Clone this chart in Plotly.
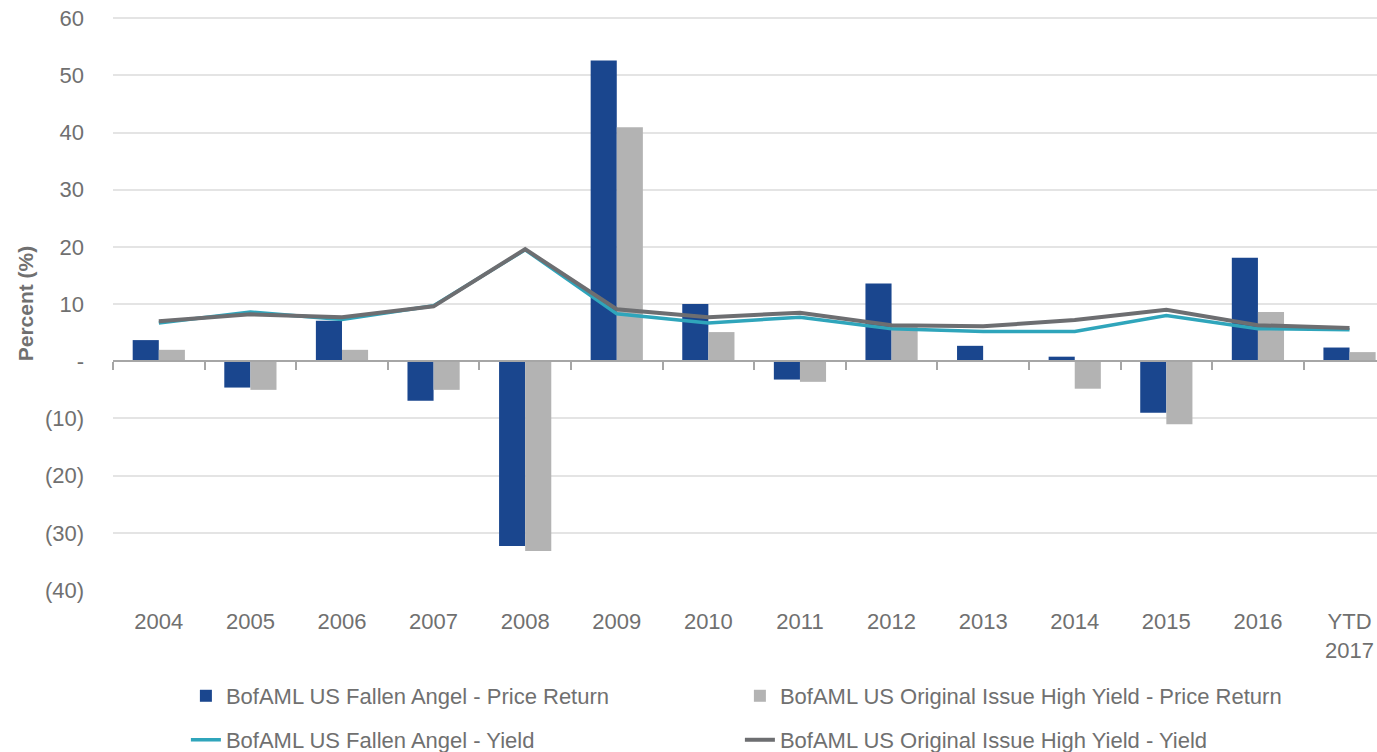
import plotly.graph_objects as go

categories = ["2004", "2005", "2006", "2007", "2008", "2009", "2010", "2011",
              "2012", "2013", "2014", "2015", "2016", "YTD<br>2017"]
fa_price_return = [3.7, -4.6, 7.1, -6.9, -32.3, 52.6, 10.0, -3.2, 13.6, 2.7, 0.8, -9.0, 18.1, 2.4]
oihy_price_return = [2.0, -5.0, 2.0, -5.0, -33.2, 40.9, 5.1, -3.6, 6.3, -0.1, -4.8, -11.0, 8.6, 1.6]
fa_yield = [6.7, 8.6, 7.3, 9.7, 19.5, 8.3, 6.7, 7.7, 5.7, 5.2, 5.2, 8.0, 5.7, 5.5]
oihy_yield = [7.0, 8.2, 7.7, 9.6, 19.6, 9.1, 7.7, 8.5, 6.3, 6.1, 7.2, 9.0, 6.3, 5.8]

y_tickvals = [-40, -30, -20, -10, 0, 10, 20, 30, 40, 50, 60]
y_ticktext = ["(40)", "(30)", "(20)", "(10)", "-", "10", "20", "30", "40", "50", "60"]

FONT = "Liberation Sans, Arial, sans-serif"
TXT = "#707070"

fig = go.Figure()
fig.add_trace(go.Bar(x=categories, y=fa_price_return, name="BofAML US Fallen Angel - Price Return",
                     marker=dict(color="#1A468E", line=dict(width=0)), legend="legend"))
fig.add_trace(go.Bar(x=categories, y=oihy_price_return, name="BofAML US Original Issue High Yield - Price Return",
                     marker=dict(color="#B3B3B3", line=dict(width=0)), legend="legend"))
fig.add_trace(go.Scatter(x=categories, y=fa_yield, name="BofAML US Fallen Angel - Yield",
                         mode="lines", line=dict(color="#2FA5BB", width=3.5), legend="legend2"))
fig.add_trace(go.Scatter(x=categories, y=oihy_yield, name="BofAML US Original Issue High Yield - Yield",
                         mode="lines", line=dict(color="#6D6E71", width=4), legend="legend2"))
# invisible helper trace carrying the zero-line category axis with boundary ticks
fig.add_trace(go.Scatter(x=categories, y=oihy_yield, xaxis="x2", mode="lines",
                         line=dict(width=0), opacity=0, showlegend=False, hoverinfo="skip"))

xr = [-0.5, 13.3]
yr = [-40, 60.2]
W, H = 1377, 752
fig.update_layout(
    width=W, height=H,
    margin=dict(l=113, r=0, t=17, b=162, autoexpand=False),
    plot_bgcolor="white", paper_bgcolor="white",
    font=dict(family=FONT, size=22, color=TXT),
    barmode="group", bargap=0.43, bargroupgap=0,
    xaxis=dict(type="category", range=xr, showgrid=False, zeroline=False, showline=False,
               ticks="", tickfont=dict(size=22, color=TXT), ticklabelstandoff=16,
               ticklabeloverflow="allow", automargin=False),
    xaxis2=dict(type="category", range=xr, overlaying="x", anchor="free",
                position=(0 - yr[0]) / (yr[1] - yr[0]),
                side="bottom", showgrid=False, zeroline=False, showline=True,
                linecolor="#A6A6A6", linewidth=1.5, ticks="outside", tickson="boundaries",
                ticklen=8, tickcolor="#A6A6A6", tickwidth=1.5, showticklabels=False,
                automargin=False),
    yaxis=dict(range=yr, tickvals=y_tickvals, ticktext=y_ticktext,
               showgrid=True, gridcolor="#E4E4E4", gridwidth=1.5, zeroline=False,
               showline=False, ticks="", ticklabelstandoff=28, automargin=False,
               ticklabeloverflow="allow",
               tickfont=dict(size=22, color=TXT),
               title=dict(text="<b>Percent (%)</b>", font=dict(size=21, color=TXT), standoff=5)),
    legend=dict(orientation="h", xref="container", yref="container", x=0.135, y=0.0745,
                xanchor="left", yanchor="middle", entrywidth=509, entrywidthmode="pixels",
                font=dict(size=22, color=TXT), bgcolor="rgba(0,0,0,0)", traceorder="normal"),
    legend2=dict(orientation="h", xref="container", yref="container", x=0.135, y=0.016,
                 xanchor="left", yanchor="middle", entrywidth=509, entrywidthmode="pixels",
                 font=dict(size=22, color=TXT), bgcolor="rgba(0,0,0,0)", traceorder="normal"),
)

fig.write_html("out.html", config={"displayModeBar": False},
               post_script="document.body.style.margin='0';document.body.style.overflow='hidden';")
